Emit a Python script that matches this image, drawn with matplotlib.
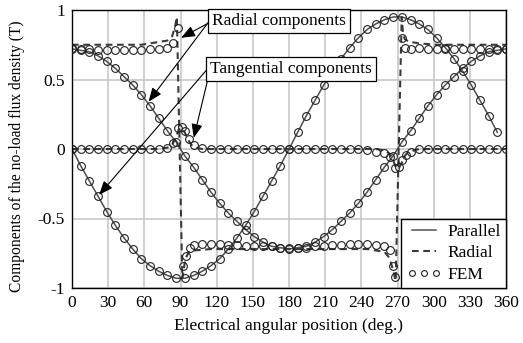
import matplotlib
matplotlib.use("Agg")
import matplotlib.pyplot as plt
from matplotlib.lines import Line2D

plt.rcParams['font.family'] = ['Liberation Serif', 'DejaVu Serif']

# ---------------- data ----------------
ang = [0, 7.2, 14.4, 21.6, 28.8, 36, 43.2, 50.4, 57.6, 64.8, 72, 79.2, 86.4, 93.6,
       100.8, 108, 115.2, 122.4, 129.6, 136.8, 144, 151.2, 158.4, 165.6, 172.8, 180,
       187.2, 194.4, 201.6, 208.8, 216, 223.2, 230.4, 237.6, 244.8, 252, 259.2, 266.4,
       273.6, 280.8, 288, 295.2, 302.4, 309.6, 316.8, 324, 331.2, 338.4, 345.6, 352.8, 360]

# parallel magnetization, tangential component (ends at 352.8)
par_tan = [0, -0.12, -0.23, -0.34, -0.45, -0.55, -0.64, -0.72, -0.79, -0.84,
           -0.88, -0.91, -0.93, -0.93, -0.91, -0.88, -0.84, -0.79, -0.72, -0.64,
           -0.55, -0.45, -0.34, -0.23, -0.12, 0.0,
           0.12, 0.24, 0.35, 0.46, 0.56, 0.65, 0.73, 0.80, 0.86, 0.90,
           0.93, 0.95, 0.95, 0.93, 0.90, 0.86, 0.80, 0.73, 0.65, 0.56,
           0.46, 0.35, 0.24, 0.12]

# parallel magnetization, radial component
par_rad = [0.72, 0.71, 0.70, 0.67, 0.63, 0.58, 0.52, 0.46, 0.39, 0.31, 0.22, 0.13, 0.05,
           -0.05, -0.13, -0.22, -0.31, -0.39, -0.46, -0.52, -0.58, -0.63, -0.67, -0.70,
           -0.71, -0.72, -0.71, -0.70, -0.67, -0.63, -0.58, -0.52, -0.46, -0.39, -0.31,
           -0.22, -0.13, -0.05, 0.05, 0.13, 0.22, 0.31, 0.39, 0.46, 0.52, 0.58, 0.63,
           0.67, 0.70, 0.71, 0.72]

# radial magnetization, radial component (analytical, dashed)
rr_x = [0, 14.4, 28.8, 43.2, 57.6, 64.8, 72, 79.2, 83, 85.5,
        87, 91.5, 92.5, 94, 97, 100.8, 115.2, 144, 180, 216,
        244.8, 252, 259.2, 263, 266, 268.5, 273.5, 274.5, 276, 278,
        280.8, 288, 302.4, 331.2, 360]
rr_y = [0.75, 0.75, 0.75, 0.75, 0.75, 0.76, 0.77, 0.78, 0.81, 0.88,
        0.95, -0.93, -0.88, -0.79, -0.74, -0.73, -0.72, -0.72, -0.72, -0.72,
        -0.72, -0.73, -0.74, -0.78, -0.86, -0.95, 0.95, 0.84, 0.79, 0.78,
        0.77, 0.76, 0.75, 0.75, 0.75]

# radial magnetization, tangential component (analytical, dashed)
rt_x = [0, 36, 72, 79.2, 83, 86, 88.5, 91, 93.5, 96,
        99, 102, 108, 144, 180, 216, 252, 259.2, 263, 266,
        268.5, 271, 273.5, 276, 279, 284, 288, 324, 360]
rt_y = [0, 0, 0.0, 0.01, 0.03, 0.08, 0.14, 0.15, 0.12, 0.07,
        0.03, 0.01, 0, 0, 0, 0, 0, -0.01, -0.03, -0.07,
        -0.13, -0.14, -0.10, -0.05, -0.02, -0.01, 0, 0, 0]

# FEM, radial magnetization, radial component
fr_x = [0, 7.2, 14.4, 21.6, 28.8, 36, 43.2, 50.4, 57.6, 64.8,
        72, 79.2, 84, 88, 92, 94.6, 97.9, 100.8, 108, 115.2,
        122.4, 129.6, 136.8, 144, 151.2, 158.4, 165.6, 172.8, 180, 187.2,
        194.4, 201.6, 208.8, 216, 223.2, 230.4, 237.6, 244.8, 252, 259.2,
        264, 266.5, 268, 273.5, 276, 280.8, 288, 295.2, 302.4, 309.6,
        316.8, 324, 331.2, 338.4, 345.6, 352.8, 360]
fr_y = [0.73, 0.72, 0.72, 0.71, 0.71, 0.71, 0.71, 0.71, 0.71, 0.72,
        0.72, 0.73, 0.76, 0.87, -0.84, -0.77, -0.71, -0.69, -0.68, -0.68,
        -0.68, -0.69, -0.69, -0.70, -0.70, -0.70, -0.70, -0.71, -0.71, -0.71,
        -0.71, -0.70, -0.70, -0.69, -0.69, -0.68, -0.68, -0.68, -0.69, -0.70,
        -0.73, -0.84, -0.92, 0.80, 0.73, 0.72, 0.73, 0.72, 0.72, 0.72,
        0.72, 0.72, 0.72, 0.72, 0.72, 0.72, 0.72]

# FEM, radial magnetization, tangential component
ft_x = [0, 7.2, 14.4, 21.6, 28.8, 36, 43.2, 50.4, 57.6, 64.8, 72, 79.2,
        84, 88, 91, 94, 97,
        100.8, 108, 115.2, 122.4, 129.6, 136.8, 144, 151.2, 158.4, 165.6, 172.8, 180,
        187.2, 194.4, 201.6, 208.8, 216, 223.2, 230.4, 237.6, 244.8, 252, 259.2,
        264, 268, 271.5, 274, 277,
        280.8, 288, 295.2, 302.4, 309.6, 316.8, 324, 331.2, 338.4, 345.6, 352.8, 360]
ft_y = [0, 0, 0, 0, 0, 0, 0, 0, 0, 0, 0.0, 0.01,
        0.04, 0.15, 0.16, 0.13, 0.07,
        0.03, 0.01, 0, 0, 0, 0, 0, 0, 0, 0, 0, 0,
        0, 0, 0, 0, 0, 0, 0, 0, -0.01, -0.02, -0.03,
        -0.06, -0.14, -0.13, -0.08, -0.04,
        -0.02, 0.0, 0, 0, 0, 0, 0, 0, 0, 0, 0, 0]

x_ticks = [0, 30, 60, 90, 120, 150, 180, 210, 240, 270, 300, 330, 360]
y_ticks = [-1, -0.5, 0, 0.5, 1]
y_labels = ['-1', '-0.5', '0', '0.5', '1']

# ---------------- figure ----------------
W, H = 523, 343
FS = 12.5
fig = plt.figure(figsize=(W / 100, H / 100), dpi=100)
ax = fig.add_axes([72 / W, 1 - 288 / H, (506 - 72) / W, (288 - 10) / H])

solid_c = '#4f4f4f'
dash_c = '#3a3a3a'
fem_kw = dict(ls='none', marker='o', ms=5.6, mfc='none', mec='#222222', mew=0.8, zorder=3)

ax.plot(ang[:len(par_tan)], par_tan, color=solid_c, lw=1.1, zorder=2)
ax.plot(ang, par_rad, color=solid_c, lw=1.1, zorder=2)
ax.plot(rr_x, rr_y, color=dash_c, lw=1.5, dashes=(3.2, 2.2), zorder=2)
ax.plot(rt_x, rt_y, color=dash_c, lw=1.5, dashes=(3.2, 2.2), zorder=2)

ax.plot(ang[:len(par_tan)], par_tan, **fem_kw)
ax.plot(ang, par_rad, **fem_kw)
ax.plot(fr_x, fr_y, **fem_kw)
ax.plot(ft_x, ft_y, **fem_kw)

ax.set_xlim(0, 360)
ax.set_ylim(-1, 1)
ax.set_xticks(x_ticks)
ax.set_yticks(y_ticks)
ax.set_yticklabels(y_labels)
ax.tick_params(length=0, labelsize=FS, pad=5)
ax.grid(True, color='#c4c4c4', lw=1.1)
ax.set_axisbelow(True)
for s in ax.spines.values():
    s.set_color('black')
    s.set_linewidth(1.0)

ax.set_xlabel('Electrical angular position (deg.)', fontsize=FS, labelpad=5)
ax.set_ylabel('Components of the no-load flux density (T)', fontsize=11.2)
ax.yaxis.set_label_coords(-0.108, 0.475)

# ---------------- annotations ----------------
box = dict(boxstyle='square,pad=0.22', fc='white', ec='black', lw=0.9)
arr = dict(arrowstyle='-|>,head_length=0.7,head_width=0.28', color='black', lw=0.8,
           mutation_scale=12, shrinkA=0, shrinkB=0, relpos=(0, 0.5))

a1 = ax.annotate('Radial components', xy=(90.5, 0.80), xycoords='data',
                 xytext=(0.477, 0.960), textcoords='axes fraction',
                 ha='center', va='center', fontsize=FS, bbox=box,
                 arrowprops=arr, zorder=7)
a2 = ax.annotate('Tangential components', xy=(101, 0.08), xycoords='data',
                 xytext=(0.505, 0.788), textcoords='axes fraction',
                 ha='center', va='center', fontsize=FS, bbox=box,
                 arrowprops=arr, zorder=7)

fig.canvas.draw()
inv = ax.transAxes.inverted()
for ann, head in ((a1, (63.5, 0.34)), (a2, (22.5, -0.33))):
    bb = ann.get_bbox_patch().get_window_extent()
    sx, sy = inv.transform((bb.x0 + 1, (bb.y0 + bb.y1) / 2))
    ax.annotate('', xy=head, xycoords='data', xytext=(sx, sy), textcoords='axes fraction',
                arrowprops=dict(arrowstyle='-|>,head_length=0.7,head_width=0.28',
                                color='black', lw=0.8, mutation_scale=12,
                                shrinkA=0, shrinkB=0), zorder=6)

# ---------------- legend ----------------
handles = [Line2D([], [], color=solid_c, lw=1.1),
           Line2D([], [], color=dash_c, lw=1.5, dashes=(3.2, 2.2)),
           Line2D([], [], ls='none', marker='o', ms=4.2, mfc='none', mec='#222222', mew=0.8)]
leg = ax.legend(handles, ['Parallel', 'Radial', 'FEM'], loc='lower right',
                borderaxespad=0, fancybox=False, framealpha=1, edgecolor='black',
                fontsize=FS, numpoints=3, handlelength=2.0, handletextpad=0.35,
                labelspacing=0.3, borderpad=0.3)
leg.get_frame().set_linewidth(1.0)
leg.set_zorder(8)

fig.savefig('out.png', dpi=100)
